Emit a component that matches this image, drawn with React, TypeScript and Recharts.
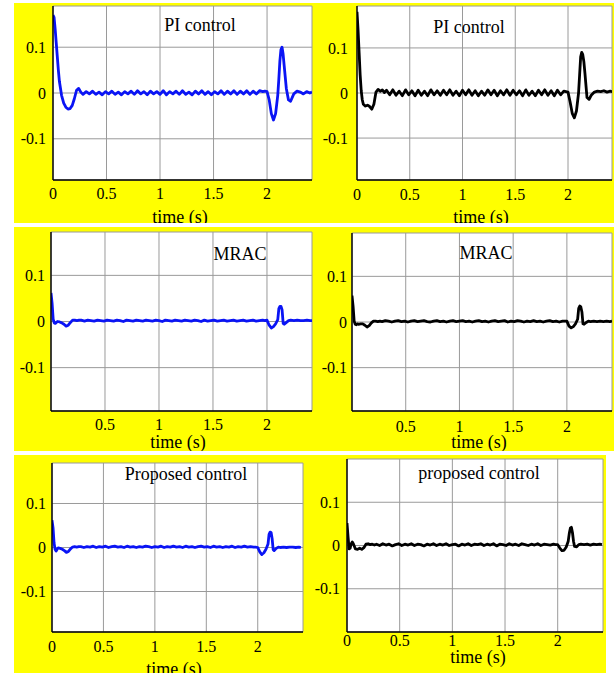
import React from 'react'
import { LineChart, Line, XAxis, YAxis, CartesianGrid } from 'recharts'

const SERIF = '"Liberation Serif", "Times New Roman", Times, serif'
const BLUE = '#0a14f5'
const BLACK = '#000000'

// shared time base (s), finer around the two transients
const TIME = [
    0, 0.01, 0.02, 0.03, 0.04, 0.05, 0.06, 0.08, 0.1, 0.12, 0.14, 0.16, 0.18, 0.2, 0.22, 0.24, 0.26,
    0.28, 0.31, 0.34, 0.37, 0.4, 0.43, 0.46, 0.49, 0.52, 0.55,
    0.58, 0.61, 0.64, 0.67, 0.7, 0.73, 0.76, 0.79, 0.82, 0.85,
    0.88, 0.91, 0.94, 0.97, 1.0, 1.03, 1.06, 1.09, 1.12, 1.15,
    1.18, 1.21, 1.24, 1.27, 1.3, 1.33, 1.36, 1.39, 1.42, 1.45,
    1.48, 1.51, 1.54, 1.57, 1.6, 1.63, 1.66, 1.69, 1.72, 1.75,
    1.78, 1.81, 1.84, 1.87, 1.9, 1.93, 1.96,
    1.98, 2.0, 2.02, 2.04, 2.06, 2.08, 2.1, 2.11, 2.12, 2.13, 2.14, 2.15, 2.16, 2.18, 2.2, 2.22, 2.25, 2.28, 2.31, 2.34, 2.37, 2.4, 2.42,
]

const PI_BLUE = [
    0.17, 0.165, 0.14, 0.11, 0.08, 0.05, 0.025, -0.005, -0.022, -0.031, -0.035, -0.034, -0.027, -0.012, 0.006, 0.01, 0.002,
    -0.003, 0.003, -0.002, 0.004, -0.003, 0.002, -0.004, 0.003, -0.002, 0.004,
    -0.003, 0.002, -0.004, 0.003, -0.002, 0.004, -0.003, 0.005, -0.002, 0.003,
    -0.004, 0.004, -0.002, 0.003, -0.003, 0.005, -0.004, 0.003, -0.002, 0.004,
    -0.003, 0.005, -0.003, 0.002, -0.004, 0.004, -0.002, 0.005, -0.003, 0.003,
    -0.004, 0.003, -0.002, 0.005, -0.003, 0.004, -0.002, 0.005, -0.003, 0.004,
    -0.002, 0.005, -0.003, 0.004, -0.002, 0.005, 0.003,
    0.004, 0.003, -0.015, -0.045, -0.059, -0.045, -0.005, 0.03, 0.07, 0.095, 0.1, 0.085, 0.06, 0.01, -0.015, -0.018, -0.002, 0.004, 0.002, -0.002, 0.003, 0.0, 0.002,
]

const PI_BLACK = [
    0.18, 0.14, 0.09, 0.04, 0.005, -0.015, -0.025, -0.029, -0.027, -0.03, -0.036, -0.025, 0.002, 0.008, 0.004, 0.007, 0.001,
    0.006, -0.004, 0.007, -0.005, 0.004, -0.006, 0.007, -0.004, 0.005, -0.006,
    0.006, -0.005, 0.004, -0.006, 0.007, -0.004, 0.005, -0.005, 0.006, -0.004,
    0.007, -0.005, 0.004, -0.006, 0.006, -0.004, 0.007, -0.005, 0.005, -0.006,
    0.004, -0.005, 0.007, -0.004, 0.006, -0.006, 0.005, -0.004, 0.007, -0.005,
    0.006, -0.004, 0.005, -0.006, 0.007, -0.005, 0.004, -0.006, 0.006, -0.004,
    0.007, -0.005, 0.005, -0.006, 0.006, -0.004, 0.004,
    0.003, 0.002, -0.02, -0.045, -0.055, -0.04, 0.0, 0.04, 0.08, 0.09, 0.085, 0.07, 0.045, -0.01, -0.014, -0.005, 0.002, 0.004, 0.003, 0.005, 0.002, 0.004, 0.003,
]

const MRAC_BLUE = [
    0.062, 0.04, 0.005, -0.003, -0.004, -0.002, 0.0, -0.001, -0.003, -0.006, -0.01, -0.008, -0.002, 0.003, 0.003, 0.002, 0.003,
    0.003, 0.001, 0.003, 0.002, 0.001, 0.003, 0.002, 0.001, 0.003, 0.002,
    0.001, 0.003, 0.002, 0.0, 0.003, 0.002, 0.001, 0.003, 0.002, 0.001,
    0.003, 0.002, 0.001, 0.003, 0.002, 0.0, 0.003, 0.002, 0.001, 0.003,
    0.002, 0.001, 0.003, 0.002, 0.001, 0.003, 0.002, 0.0, 0.003, 0.001,
    0.002, 0.003, 0.001, 0.002, 0.003, 0.001, 0.002, 0.003, 0.001, 0.002,
    0.003, 0.001, 0.002, 0.003, 0.001, 0.002, 0.003,
    0.002, 0.003, -0.008, -0.014, -0.011, -0.005, 0.004, 0.028, 0.033, 0.033, 0.025, -0.004, -0.006, -0.002, 0.002, 0.003, 0.002, 0.003, 0.002, 0.002, 0.003, 0.002, 0.002,
]

const MRAC_BLACK = [
    0.058, 0.035, 0.002, -0.005, -0.006, -0.004, -0.005, -0.004, -0.004, -0.007, -0.011, -0.008, -0.002, 0.002, 0.002, 0.001, 0.002,
    0.001, 0.003, 0.002, 0.0, 0.002, 0.003, 0.001, 0.002, 0.0, 0.002,
    0.003, 0.001, 0.002, 0.003, 0.001, 0.0, 0.002, 0.003, 0.001, 0.002,
    0.0, 0.002, 0.003, 0.001, 0.002, 0.003, 0.001, 0.002, 0.0, 0.002,
    0.003, 0.001, 0.002, 0.0, 0.002, 0.003, 0.001, 0.002, 0.003, 0.0,
    0.002, 0.001, 0.003, 0.002, 0.0, 0.002, 0.001, 0.003, 0.001, 0.002,
    0.0, 0.002, 0.003, 0.001, 0.002, 0.0, 0.002,
    0.002, 0.002, -0.009, -0.013, -0.01, -0.004, 0.006, 0.03, 0.035, 0.033, 0.022, -0.004, -0.005, -0.001, 0.002, 0.001, 0.002, 0.001, 0.002, 0.001, 0.002, 0.001, 0.002,
]

const PROP_BLUE = [
    0.062, 0.045, 0.01, -0.004, -0.008, -0.004, -0.001, -0.002, -0.004, -0.007, -0.011, -0.009, -0.003, 0.001, 0.002, 0.001, 0.002,
    0.002, 0.0, 0.002, 0.001, 0.003, 0.0, 0.002, 0.001, 0.003, 0.0,
    0.002, 0.003, 0.001, 0.002, 0.0, 0.003, 0.001, 0.002, 0.0, 0.002,
    0.001, 0.003, 0.002, 0.0, 0.002, 0.001, 0.003, 0.0, 0.002, 0.001,
    0.003, 0.001, 0.002, 0.0, 0.003, 0.001, 0.002, 0.0, 0.002, 0.003,
    0.001, 0.002, 0.0, 0.003, 0.001, 0.002, 0.0, 0.002, 0.001, 0.003,
    0.0, 0.002, 0.001, 0.003, 0.001, 0.002, 0.001,
    0.001, 0.0, -0.01, -0.016, -0.012, -0.004, 0.008, 0.03, 0.035, 0.034, 0.02, -0.005, -0.007, -0.002, 0.001, 0.0, 0.001, 0.0, 0.001, 0.001, 0.0, 0.001, 0.0,
]

const PROP_BLACK = [
    0.052, 0.02, -0.008, -0.006, 0.004, 0.008, 0.004, -0.008, -0.009, -0.006, -0.009, -0.005, 0.003, 0.004, 0.002, 0.003, 0.001,
    0.003, 0.0, 0.004, 0.001, 0.003, -0.001, 0.002, 0.004, 0.0, 0.003,
    0.001, 0.004, 0.0, 0.003, 0.002, -0.001, 0.003, 0.001, 0.004, 0.0,
    0.003, 0.001, 0.004, 0.0, 0.002, 0.003, -0.001, 0.003, 0.001, 0.004,
    0.0, 0.003, 0.002, 0.004, 0.0, 0.003, 0.001, 0.004, -0.001, 0.003,
    0.002, 0.0, 0.004, 0.001, 0.003, 0.0, 0.004, 0.002, 0.0, 0.003,
    0.001, 0.004, 0.0, 0.003, 0.002, 0.001, 0.003,
    0.002, 0.002, -0.006, -0.012, -0.011, -0.004, 0.01, 0.028, 0.04, 0.042, 0.03, 0.01, -0.002, -0.003, 0.002, 0.003, 0.002, 0.003, 0.001, 0.003, 0.002, 0.003, 0.002,
]

const X_TICKS = [0, 0.5, 1, 1.5, 2]
const X_TICKS_NO_ZERO = [0.5, 1, 1.5, 2]
const Y_TICKS = [-0.1, 0, 0.1]

// chart margins around each plot box
const ML = 50
const MT = 10
const MR = 6
const MB = 40

type PanelSpec = {
    id: string
    values: number[]
    color: string
    title: string
    x: number
    y: number
    w: number
    h: number
    xMax: number
    yMax: number
    xTicks: number[]
    yGap: number
    xGap: number
    titleX: number
    titleY: number
    labelX: number
    labelY: number
}

const PANELS: PanelSpec[] = [
    { id: 'pi-blue', values: PI_BLUE, color: BLUE, title: 'PI control', x: 53, y: 6, w: 259, h: 174, xMax: 2.42, yMax: 0.19, xTicks: X_TICKS, yGap: 7, xGap: 8, titleX: 200, titleY: 31, labelX: 180, labelY: 223 },
    { id: 'pi-black', values: PI_BLACK, color: BLACK, title: 'PI control', x: 357, y: 6, w: 255, h: 174, xMax: 2.417, yMax: 0.193, xTicks: X_TICKS, yGap: 9, xGap: 9, titleX: 469, titleY: 33, labelX: 481, labelY: 223 },
    { id: 'mrac-blue', values: MRAC_BLUE, color: BLUE, title: 'MRAC', x: 51, y: 232, w: 261, h: 179, xMax: 2.417, yMax: 0.194, xTicks: X_TICKS_NO_ZERO, yGap: 6, xGap: 8, titleX: 240, titleY: 260, labelX: 178, labelY: 448 },
    { id: 'mrac-black', values: MRAC_BLACK, color: BLACK, title: 'MRAC', x: 352, y: 233, w: 260, h: 178, xMax: 2.42, yMax: 0.195, xTicks: X_TICKS_NO_ZERO, yGap: 5, xGap: 10, titleX: 486, titleY: 259, labelX: 479, labelY: 448 },
    { id: 'prop-blue', values: PROP_BLUE, color: BLUE, title: 'Proposed control', x: 52, y: 463, w: 251, h: 169, xMax: 2.44, yMax: 0.192, xTicks: X_TICKS, yGap: 6, xGap: 9, titleX: 186, titleY: 480, labelX: 174, labelY: 675 },
    { id: 'prop-black', values: PROP_BLACK, color: BLACK, title: 'proposed control', x: 347, y: 459, w: 256, h: 173, xMax: 2.43, yMax: 0.2, xTicks: X_TICKS, yGap: 7, xGap: 3, titleX: 479, titleY: 479, labelX: 478, labelY: 663 },
]

const YELLOW_BANDS = [
    { x: 14, y: 3, w: 600, h: 220 },
    { x: 14, y: 227, w: 600, h: 224 },
    { x: 14, y: 455, w: 592, h: 218 },
]

const WHITE_GAPS = [
    { y: 223, h: 4 },
    { y: 451, h: 4 },
]

const tickStyle = { fill: '#000', fontSize: 16, fontFamily: SERIF }
const frame = { stroke: '#000', strokeWidth: 1.4 }

function Panel({ p }: { p: PanelSpec }) {
    const data = TIME.map((t, i) => ({ t, v: p.values[i] }))
    return (
        <div style={{ position: 'absolute', left: p.x - ML, top: p.y - MT, zIndex: 1 }}>
            <LineChart
                width={p.w + ML + MR}
                height={p.h + MT + MB}
                data={data}
                margin={{ top: MT, right: MR, bottom: 0, left: 0 }}
            >
                <CartesianGrid stroke="#9a9a9a" strokeWidth={1} fill="#ffffff" fillOpacity={1} />
                <XAxis
                    dataKey="t"
                    type="number"
                    domain={[0, p.xMax]}
                    ticks={p.xTicks}
                    interval={0}
                    allowDataOverflow
                    height={MB}
                    tickLine={false}
                    tickSize={0}
                    tickMargin={p.xGap}
                    axisLine={frame}
                    tick={tickStyle}
                />
                <XAxis
                    xAxisId="top"
                    orientation="top"
                    type="number"
                    domain={[0, p.xMax]}
                    height={0}
                    tick={false}
                    tickLine={false}
                    axisLine={frame}
                />
                <YAxis
                    type="number"
                    domain={[-p.yMax, p.yMax]}
                    ticks={Y_TICKS}
                    interval={0}
                    allowDataOverflow
                    width={ML}
                    tickLine={false}
                    tickSize={0}
                    tickMargin={p.yGap}
                    axisLine={frame}
                    tick={tickStyle}
                    tickFormatter={(v: number) => (v === 0 ? '0' : String(v))}
                />
                <YAxis
                    yAxisId="right"
                    orientation="right"
                    type="number"
                    domain={[-p.yMax, p.yMax]}
                    width={0}
                    tick={false}
                    tickLine={false}
                    axisLine={frame}
                />
                <Line
                    type="linear"
                    dataKey="v"
                    stroke={p.color}
                    strokeWidth={2.8}
                    strokeLinejoin="round"
                    dot={false}
                    isAnimationActive={false}
                />
            </LineChart>
        </div>
    )
}

export default function App() {
    return (
        <div style={{ position: 'absolute', left: 0, top: 0, width: 614, height: 673, overflow: 'hidden', background: '#fff' }}>
            {YELLOW_BANDS.map((b, i) => (
                <div key={i} style={{ position: 'absolute', left: b.x, top: b.y, width: b.w, height: b.h, background: '#ffff00' }} />
            ))}
            {PANELS.map((p) => (
                <Panel key={p.id} p={p} />
            ))}
            <svg width={614} height={673} style={{ position: 'absolute', left: 0, top: 0, zIndex: 2, pointerEvents: 'none' }}>
                {PANELS.map((p) => (
                    <g key={p.id} fontFamily={SERIF} fontSize={18} fill="#000" textAnchor="middle">
                        <text x={p.titleX} y={p.titleY}>{p.title}</text>
                        <text x={p.labelX} y={p.labelY}>time (s)</text>
                    </g>
                ))}
            </svg>
            {WHITE_GAPS.map((g, i) => (
                <div key={i} style={{ position: 'absolute', left: 0, top: g.y, width: 614, height: g.h, background: '#fff', zIndex: 3 }} />
            ))}
        </div>
    )
}
